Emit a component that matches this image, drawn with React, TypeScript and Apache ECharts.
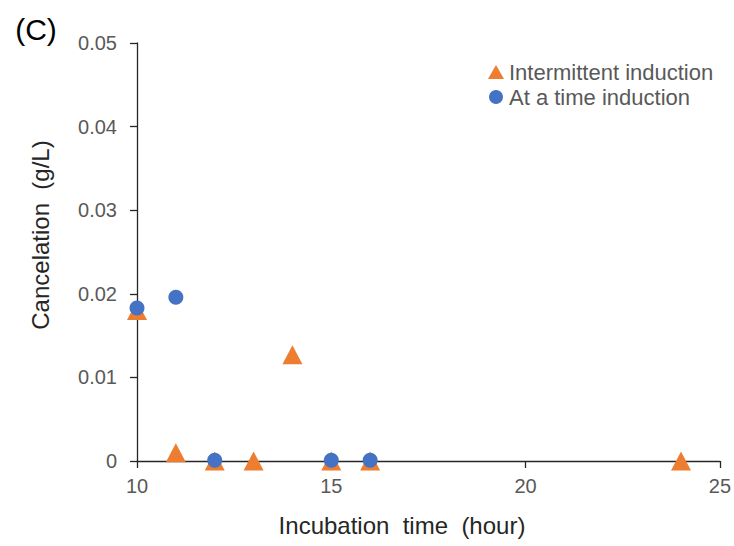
import React, { useEffect, useRef } from "react";
import * as echarts from "echarts";

const seriesNames = ["Intermittent induction", "At a time induction"];
const intermittentX = [10, 11, 12, 13, 14, 15, 16, 24];
const intermittentY = [0.018, 0.001, 0, 0, 0.0127, 0, 0, 0];
const atTimeX = [10, 11, 12, 15, 16];
const atTimeY = [0.0183, 0.0196, 0.0001, 0.0001, 0.0001];
const xTitle = "Incubation  time  (hour)";
const yTitle = "Cancelation  (g/L)";
const panelLabel = "(C)";

const FONT = "'Liberation Sans', Arial, sans-serif";

export default function App() {
  const ref = useRef<HTMLDivElement>(null);
  useEffect(() => {
    document.body.style.margin = "0";
    if (!ref.current) return;
    const chart = echarts.init(ref.current, null, { renderer: "svg" });
    const axisColor = "#262626";
    chart.setOption({
      animation: false,
      backgroundColor: "#ffffff",
      grid: { left: 137, right: 13, top: 43, bottom: 85, containLabel: false },
      legend: {
        orient: "vertical",
        left: 483,
        top: 56,
        itemGap: 3,
        itemWidth: 16,
        itemHeight: 14,
        textStyle: { fontFamily: FONT, fontSize: 22, color: "#595959", lineHeight: 22 },
        data: [
          { name: seriesNames[0], icon: "triangle" },
          { name: seriesNames[1], icon: "circle" },
        ],
      },
      xAxis: {
        type: "value",
        min: 10,
        max: 25,
        interval: 5,
        axisLine: { show: true, onZero: false, lineStyle: { color: axisColor, width: 1.3 } },
        axisTick: { show: true, length: 7, lineStyle: { color: axisColor, width: 1.3 } },
        axisLabel: { fontFamily: FONT, fontSize: 20, color: "#595959", margin: 15 },
        splitLine: { show: false },
      },
      yAxis: {
        type: "value",
        min: 0,
        max: 0.05,
        interval: 0.01,
        axisLine: { show: true, lineStyle: { color: axisColor, width: 1.3 } },
        axisTick: { show: true, length: 7, lineStyle: { color: axisColor, width: 1.3 } },
        axisLabel: {
          fontFamily: FONT,
          fontSize: 20,
          color: "#595959",
          margin: 20,
          formatter: (v: number) => (v === 0 ? "0" : v.toFixed(2)),
        },
        splitLine: { show: false },
      },
      series: [
        {
          name: seriesNames[0],
          type: "scatter",
          symbol: "triangle",
          symbolSize: [20, 19],
          itemStyle: { color: "#ED7D31", opacity: 1 },
          data: intermittentX.map((x, i) => [x, intermittentY[i]]),
          z: 2,
        },
        {
          name: seriesNames[1],
          type: "scatter",
          symbol: "circle",
          symbolSize: 15,
          itemStyle: { color: "#4472C4", opacity: 1 },
          data: atTimeX.map((x, i) => [x, atTimeY[i]]),
          z: 3,
        },
      ],
      graphic: [
        {
          type: "text",
          x: 36,
          y: 29,
          style: {
            text: panelLabel,
            fontFamily: FONT,
            fontSize: 30,
            fill: "#000000",
            align: "center",
            verticalAlign: "middle",
          },
        },
        {
          type: "text",
          x: 402,
          y: 525,
          style: {
            text: xTitle,
            fontFamily: FONT,
            fontSize: 24,
            fill: "#262626",
            align: "center",
            verticalAlign: "middle",
          },
        },
        {
          type: "text",
          x: 40,
          y: 235,
          rotation: Math.PI / 2,
          style: {
            text: yTitle,
            fontFamily: FONT,
            fontSize: 24,
            fill: "#262626",
            align: "center",
            verticalAlign: "middle",
          },
        },
      ],
    });
    return () => chart.dispose();
  }, []);
  return <div ref={ref} style={{ width: 734, height: 546 }} />;
}
